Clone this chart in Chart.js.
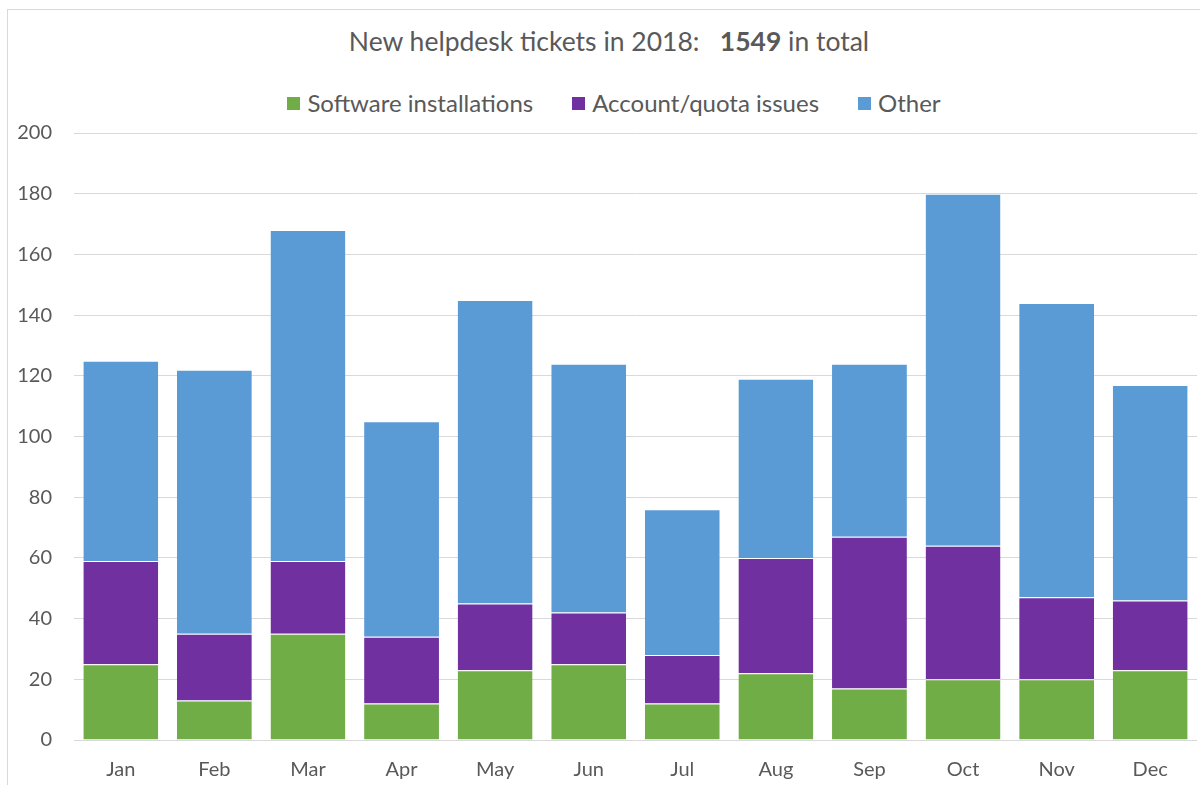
<!DOCTYPE html>
<html>
<head>
<meta charset="utf-8">
<script src="https://cdn.jsdelivr.net/npm/chart.js@4/dist/chart.umd.min.js"></script>
<style>
  html, body { margin: 0; padding: 0; background: #fff; overflow: hidden; }
  body { width: 1200px; height: 785px; position: relative; font-family: Lato, "Open Sans", sans-serif; }
  #frame { position: absolute; left: 7px; top: 9px; width: 1210px; height: 900px; border: 1px solid #d9d9d9; box-sizing: border-box; }
  #title { position: absolute; left: 8px; width: 1202px; top: 24px; text-align: center; font-size: 26.5px; line-height: 34px; color: #595959; white-space: pre; }
  #legend { position: absolute; left: 8px; width: 1212px; top: 88px; height: 30px; display: flex; justify-content: center; align-items: center; font-size: 24px; line-height: 30px; color: #595959; }
  .item { display: flex; align-items: center; margin: 0 19.5px; }
  .box { width: 13px; height: 13px; margin-right: 7px; }
  #wrap { position: absolute; left: 0; top: 0; width: 1200px; height: 785px; }
</style>
</head>
<body>
<div id="frame"></div>
<div id="title"></div>
<div id="legend"></div>
<div id="wrap"><canvas id="c" width="1200" height="785"></canvas></div>
<script>
const months = ["Jan","Feb","Mar","Apr","May","Jun","Jul","Aug","Sep","Oct","Nov","Dec"];
const softwareInstallations = [25,13,35,12,23,25,12,22,17,20,20,23];
const accountQuotaIssues = [34,22,24,22,22,17,16,38,50,44,27,23];
const otherTickets = [66,87,109,71,100,82,48,59,57,116,97,71];
const yTicks = [0,20,40,60,80,100,120,140,160,180,200];

const seriesNames = ["Software installations", "Account/quota issues", "Other"];
const seriesColors = ["#70AD47", "#7030A0", "#5B9BD5"];
const seriesData = [softwareInstallations, accountQuotaIssues, otherTickets];

const total = seriesData.reduce((s, arr) => s + arr.reduce((a, b) => a + b, 0), 0);
document.getElementById('title').innerHTML = 'New helpdesk tickets in 2018:   <b>' + total + '</b> in total';

const datasets = seriesNames.map((name, i) => ({
  label: name,
  data: seriesData[i],
  backgroundColor: seriesColors[i],
  borderColor: 'rgba(255,255,255,0.55)',
  borderWidth: { top: 1, left: 0, right: 0, bottom: 0 },
  borderSkipped: false,
  categoryPercentage: 0.8,
  barPercentage: 1.0
}));

const font = { family: 'Lato, "Open Sans", sans-serif', size: 20 };

const chart = new Chart(document.getElementById('c'), {
  type: 'bar',
  data: { labels: months, datasets },
  options: {
    responsive: false,
    devicePixelRatio: 1,
    animation: false,
    layout: { padding: { top: 133, right: 3, left: 0, bottom: 0 } },
    plugins: {
      legend: { display: false },
      title: { display: false },
      tooltip: { enabled: false }
    },
    scales: {
      x: {
        stacked: true,
        grid: { display: false, drawTicks: false },
        border: { display: false },
        ticks: { color: '#595959', font, padding: 18 },
        afterFit: s => { s.height = 45; }
      },
      y: {
        stacked: true,
        min: 0, max: 200,
        afterBuildTicks: s => { s.ticks = yTicks.map(v => ({ value: v })); },
        grid: { color: '#d9d9d9', lineWidth: 1, drawTicks: false },
        border: { display: false },
        ticks: { color: '#595959', font, padding: 22 },
        afterFit: s => { s.width = 74; }
      }
    }
  }
});

const legendEl = document.getElementById('legend');
chart.data.datasets.forEach(ds => {
  const item = document.createElement('div');
  item.className = 'item';
  const box = document.createElement('span');
  box.className = 'box';
  box.style.background = ds.backgroundColor;
  const txt = document.createElement('span');
  txt.textContent = ds.label;
  item.appendChild(box);
  item.appendChild(txt);
  legendEl.appendChild(item);
});
</script>
</body>
</html>
